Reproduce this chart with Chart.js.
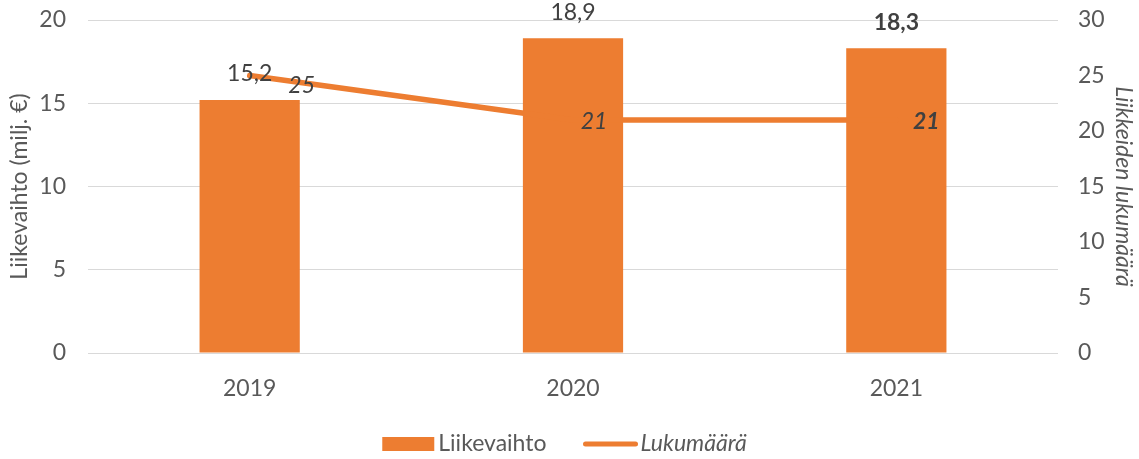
<!DOCTYPE html>
<html>
<head>
<meta charset="utf-8">
<script src="https://cdn.jsdelivr.net/npm/chart.js@4"></script>
<style>
  html, body { margin: 0; padding: 0; background: #ffffff; }
  #wrap { width: 1139px; height: 459px; }
</style>
</head>
<body>
<div id="wrap"><canvas id="chart" width="1139" height="459"></canvas></div>
<script>
const years = ["2019", "2020", "2021"];
const revenue = [15.2, 18.9, 18.3];
const storeCount = [25, 21, 21];
const leftTicks = [0, 5, 10, 15, 20];
const rightTicks = [0, 5, 10, 15, 20, 25, 30];

const orange = "#ED7D31";
const textGrey = "#595959";
const fontFamily = "Lato, 'Open Sans', sans-serif";
const fs = 23;

// value labels next to bars and line points
const valueLabels = {
    id: "valueLabels",
    afterDatasetsDraw(chart) {
        const ctx = chart.ctx;
        ctx.save();
        ctx.fillStyle = "#404040";
        ctx.textBaseline = "middle";
        ctx.textAlign = "center";

        const barMeta = chart.getDatasetMeta(0);
        barMeta.data.forEach(function (bar, i) {
            const bold = i === revenue.length - 1 ? "bold " : "";
            ctx.font = bold + fs + "px " + fontFamily;
            const txt = revenue[i].toFixed(1).replace(".", ",");
            ctx.fillText(txt, bar.x, bar.y - 26);
        });

        const lineMeta = chart.getDatasetMeta(1);
        const dx = [52, 21, 30];
        const dy = [10, 2, 2];
        lineMeta.data.forEach(function (pt, i) {
            const bold = i === storeCount.length - 1 ? "bold " : "";
            ctx.font = "italic " + bold + fs + "px " + fontFamily;
            ctx.fillText(String(storeCount[i]), pt.x + dx[i], pt.y + dy[i]);
        });
        ctx.restore();
    }
};

// legend drawn by hand: a box for the bars and a thick line for the line series
const bottomLegend = {
    id: "bottomLegend",
    afterDraw(chart) {
        const ctx = chart.ctx;
        ctx.save();
        const y = 444;
        const fontUp = fs + "px " + fontFamily;
        const fontIt = "italic " + fs + "px " + fontFamily;
        ctx.font = fontUp;
        const w1 = ctx.measureText("Liikevaihto").width;
        ctx.font = fontIt;
        const w2 = ctx.measureText("Lukumäärä").width;
        const gap = 36;
        const total = 52 + 4 + w1 + gap + 58 + w2;
        let x = chart.width / 2 - total / 2 - 5;

        ctx.fillStyle = orange;
        ctx.fillRect(x, y - 7, 52, 14);
        x += 56;
        ctx.fillStyle = textGrey;
        ctx.textBaseline = "middle";
        ctx.textAlign = "left";
        ctx.font = fontUp;
        ctx.fillText("Liikevaihto", x, y);
        x += w1 + gap;

        ctx.strokeStyle = orange;
        ctx.lineWidth = 5;
        ctx.lineCap = "round";
        ctx.beginPath();
        ctx.moveTo(x + 3, y);
        ctx.lineTo(x + 53, y);
        ctx.stroke();
        x += 58;
        ctx.font = fontIt;
        ctx.fillText("Lukumäärä", x, y);
        ctx.restore();
    }
};

function noPad(scale) {
    scale.paddingTop = 0;
    scale.paddingBottom = 0;
}

const ctx = document.getElementById("chart");
new Chart(ctx, {
    type: "bar",
    data: {
        labels: years,
        datasets: [{
            label: "Liikevaihto",
            data: revenue,
            backgroundColor: orange,
            borderWidth: 0,
            categoryPercentage: 1,
            barPercentage: 0.31,
            yAxisID: "y",
            order: 2
        }, {
            type: "line",
            label: "Lukumäärä",
            data: storeCount,
            borderColor: orange,
            backgroundColor: orange,
            borderWidth: 5.5,
            borderCapStyle: "round",
            pointRadius: 0,
            tension: 0,
            yAxisID: "y1",
            order: 1
        }]
    },
    options: {
        responsive: false,
        animation: false,
        layout: { padding: { top: 20, right: 2, left: 6, bottom: 56 } },
        plugins: {
            tooltip: { enabled: false },
            legend: { display: false }
        },
        scales: {
            x: {
                grid: { display: false },
                border: { display: false },
                ticks: {
                    color: textGrey,
                    font: { size: fs, family: fontFamily },
                    padding: 14
                },
                afterFit(scale) {
                    scale.height = 50;
                    scale.paddingLeft = 0;
                    scale.paddingRight = 0;
                }
            },
            y: {
                position: "left",
                min: 0,
                max: 20,
                afterBuildTicks(scale) {
                    scale.ticks = leftTicks.map(function (v) { return { value: v }; });
                },
                grid: { color: "#d9d9d9", lineWidth: 1, drawTicks: false },
                border: { display: false },
                ticks: {
                    color: textGrey,
                    font: { size: fs, family: fontFamily },
                    padding: 22
                },
                title: {
                    display: true,
                    text: "Liikevaihto (milj. €)",
                    color: textGrey,
                    font: { size: fs, family: fontFamily },
                    padding: 0
                },
                afterFit(scale) { scale.width = 82; noPad(scale); }
            },
            y1: {
                position: "right",
                min: 0,
                max: 30,
                afterBuildTicks(scale) {
                    scale.ticks = rightTicks.map(function (v) { return { value: v }; });
                },
                grid: { display: false },
                border: { display: false },
                ticks: {
                    color: textGrey,
                    font: { size: fs, family: fontFamily },
                    padding: 12
                },
                title: {
                    display: true,
                    text: "Liikkeiden lukumäärä",
                    color: textGrey,
                    font: { size: fs, family: fontFamily, style: "italic" },
                    padding: 0
                },
                afterFit(scale) { scale.width = 79; noPad(scale); }
            }
        }
    },
    plugins: [valueLabels, bottomLegend]
});
</script>
</body>
</html>
